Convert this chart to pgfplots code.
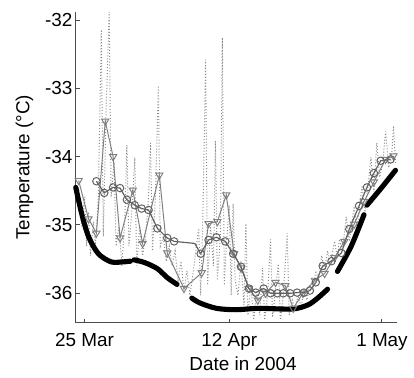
\documentclass[border=0pt]{standalone}
\usepackage{pgfplots}
\pgfplotsset{compat=1.18}
\usepackage{fontspec}
\setmainfont{Liberation Sans}
\begin{document}
\fontsize{9.6}{11.5}\selectfont
\begin{tikzpicture}
\begin{axis}[
  scale only axis, width=163.5pt, height=158pt,
  xmin=-1.1, xmax=38.92, ymin=-36.43, ymax=-31.88,
  axis x line=bottom, axis y line=left,
  axis line style={-, draw=black!70, line width=0.6pt},
  tick align=inside, major tick length=2pt,
  tick style={draw=black!70, line width=0.5pt},
  xtick={0,18,37}, xticklabels={25 Mar,12 Apr,1 May},
  ytick={-36,-35,-34,-33,-32},
  /pgf/number format/assume math mode=true,
  xticklabel style={yshift=-2pt},
  yticklabel style={inner sep=1.5pt},
  xlabel={Date in 2004}, ylabel={Temperature (°C)},
  xlabel style={at={(axis description cs:0.52,-0.133)}, anchor=center},
  ylabel style={at={(axis description cs:-0.159,0.5)}, anchor=center},
  clip=false,
  unbounded coords=jump,
]
% dotted high-frequency series
\addplot[draw=black!45, densely dotted, line width=0.5pt, mark=none] coordinates {
(-0.73,-34.45) (-0.37,-35.02) (0.00,-34.59) (0.24,-35.31) (0.49,-34.81) (0.73,-35.45)
(1.10,-34.95) (1.35,-35.31) (1.71,-34.59) (2.08,-32.14) (2.33,-35.17) (2.69,-33.29)
(3.06,-31.88) (3.30,-34.59) (3.67,-34.09) (3.92,-35.31) (4.28,-35.02) (4.65,-35.60)
(5.02,-34.88) (5.26,-33.83) (5.51,-35.31) (5.88,-34.81) (6.24,-34.01) (6.49,-35.60)
(6.85,-35.02) (7.22,-35.45) (7.59,-35.17) (7.96,-34.59) (8.20,-33.80) (8.45,-35.38)
(8.81,-34.59) (9.18,-32.96) (9.42,-35.31) (9.79,-35.17) (10.16,-35.53) (10.53,-35.31)
(10.89,-35.60) (11.26,-35.38) (11.63,-35.81) (12.00,-35.53) (12.36,-35.96) (12.73,-35.67)
(13.10,-36.03) (13.46,-35.74) (13.83,-35.38) (14.20,-35.05) (14.44,-36.03) (14.69,-35.02)
(15.06,-32.58) (15.30,-35.88) (15.67,-35.02) (16.03,-35.60) (16.28,-33.77) (16.52,-35.81)
(16.89,-35.17) (17.14,-32.26) (17.38,-35.88) (17.63,-35.31) (17.99,-34.71) (18.24,-36.03)
(18.48,-34.69) (18.73,-35.81) (19.09,-36.03) (19.46,-35.53) (19.83,-36.17) (20.07,-34.98)
(20.32,-36.32) (20.69,-35.88) (21.05,-36.39) (21.42,-35.96) (21.79,-36.32) (22.15,-35.63)
(22.40,-36.39) (22.77,-36.03) (23.13,-35.21) (23.38,-36.35) (23.75,-35.96) (24.11,-35.57)
(24.36,-36.39) (24.72,-36.03) (25.21,-35.12) (25.46,-36.32) (25.83,-36.10) (26.19,-36.24)
(26.56,-36.03) (26.93,-36.20) (27.29,-35.96) (27.66,-36.10) (28.03,-35.88) (28.40,-35.96)
(28.76,-35.67) (29.13,-35.81) (29.50,-35.45) (29.87,-35.67) (30.23,-35.38) (30.60,-35.57)
(31.09,-35.24) (31.46,-35.48) (31.70,-35.21) (32.07,-35.38) (32.56,-34.88) (32.93,-35.24)
(33.29,-34.95) (33.54,-34.73) (33.90,-35.09) (34.27,-34.66) (34.52,-34.42) (34.88,-34.81)
(35.25,-34.45) (35.62,-34.01) (35.99,-34.52) (36.35,-33.80) (36.72,-34.30) (37.09,-34.09)
(37.45,-33.63) (37.82,-34.16) (38.19,-34.01) (38.43,-33.55) (38.68,-34.09)
};
% triangle series
\addplot[draw=black!50, line width=0.5pt, mark=triangle, mark size=2.1pt,
  mark options={rotate=180, solid, fill=white, draw=black!50}] coordinates {
(-0.73,-34.35) (0.49,-34.91) (1.47,-35.12) (2.57,-33.48) (3.55,-34.00) (4.41,-35.19)
(6.00,-34.49) (7.22,-35.27) (9.30,-34.27) (10.28,-35.41) (12.36,-35.93) (14.57,-35.70)
(15.42,-34.98) (16.52,-34.95) (17.63,-34.56) (18.60,-35.42) (19.46,-35.63) (20.44,-35.93)
(21.54,-36.10) (22.52,-36.00) (23.75,-35.84) (24.97,-35.89) (25.95,-36.22) (27.17,-36.00)
(28.64,-35.81) (29.87,-35.71) (31.09,-35.48) (32.31,-35.24) (33.54,-34.99) (34.76,-34.66)
(35.99,-34.37) (37.45,-34.04) (38.43,-33.99)
};
% circle series line
\addplot[draw=black!62, line width=0.6pt, mark=none] coordinates {
(1.47,-34.36) (2.45,-34.53) (3.55,-34.45) (4.41,-34.46) (5.26,-34.63) (6.24,-34.71)
(7.10,-34.76) (7.96,-34.78) (9.06,-35.05) (10.28,-35.19) (11.14,-35.24) (13.71,-35.27)
(14.44,-35.42) (15.42,-35.22) (16.40,-35.18) (17.50,-35.24) (18.48,-35.42) (19.46,-35.61)
(20.44,-35.93) (21.30,-35.99) (22.28,-35.93) (23.13,-36.00) (23.99,-36.00) (24.72,-36.00)
(25.58,-36.00) (26.44,-35.99) (27.29,-35.99) (28.03,-35.96) (28.76,-35.84) (29.62,-35.60)
(30.72,-35.53) (31.95,-35.41) (32.93,-35.06) (34.15,-34.72) (35.13,-34.45) (35.99,-34.24)
(36.84,-34.06) (38.07,-34.04)
};
% circle markers
\addplot[only marks, mark=o, mark size=1.9pt, mark options={draw=black!62, fill=white, line width=0.5pt}] coordinates {
(1.47,-34.36) (2.45,-34.53) (3.55,-34.45) (4.41,-34.46) (5.26,-34.63) (6.24,-34.71)
(7.10,-34.76) (7.96,-34.78) (9.06,-35.05) (10.28,-35.19) (11.14,-35.24)
(14.44,-35.42) (15.42,-35.22) (16.40,-35.18) (17.50,-35.24) (18.48,-35.42) (19.46,-35.61)
(20.44,-35.93) (21.30,-35.99) (22.28,-35.93) (23.13,-36.00) (23.99,-36.00) (24.72,-36.00)
(25.58,-36.00) (26.44,-35.99) (27.29,-35.99) (28.03,-35.96) (28.76,-35.84) (29.62,-35.60)
(30.72,-35.53) (31.95,-35.41) (32.93,-35.06) (34.15,-34.72) (35.13,-34.45) (35.99,-34.24)
(36.84,-34.06) (38.07,-34.04)
};
% thick black smooth curve (segments)
\addplot[black, line width=2.6pt, line cap=round, smooth, mark=none] coordinates {
(-1.10,-34.45) (-0.37,-34.83) (0.49,-35.17) (1.71,-35.42) (3.30,-35.54) (4.77,-35.54) (5.70,-35.53)
};
\addplot[black, line width=2.6pt, line cap=round, smooth, mark=none] coordinates {
(6.15,-35.51) (7.47,-35.55) (9.06,-35.64) (10.28,-35.77) (11.50,-35.87)
};
\addplot[black, line width=2.6pt, line cap=round, smooth, mark=none] coordinates {
(13.34,-36.07) (14.32,-36.14) (16.40,-36.22) (18.85,-36.24) (21.66,-36.22) (25.83,-36.23)
(27.78,-36.17) (29.00,-36.07) (30.23,-35.94)
};
\addplot[black, line width=2.6pt, line cap=round, smooth, mark=none] coordinates {
(31.46,-35.68) (33.17,-35.31) (34.76,-34.85)
};
\addplot[black, line width=2.6pt, line cap=round, smooth, mark=none] coordinates {
(35.13,-34.71) (36.84,-34.47) (38.68,-34.20)
};
\coordinate (SW) at (rel axis cs:0,0);
\coordinate (NE) at (rel axis cs:1,1);
\end{axis}
\path ([shift={(-38.5pt,-26.5pt)}]SW) rectangle ([shift={(5pt,6pt)}]NE);
\end{tikzpicture}
\end{document}
